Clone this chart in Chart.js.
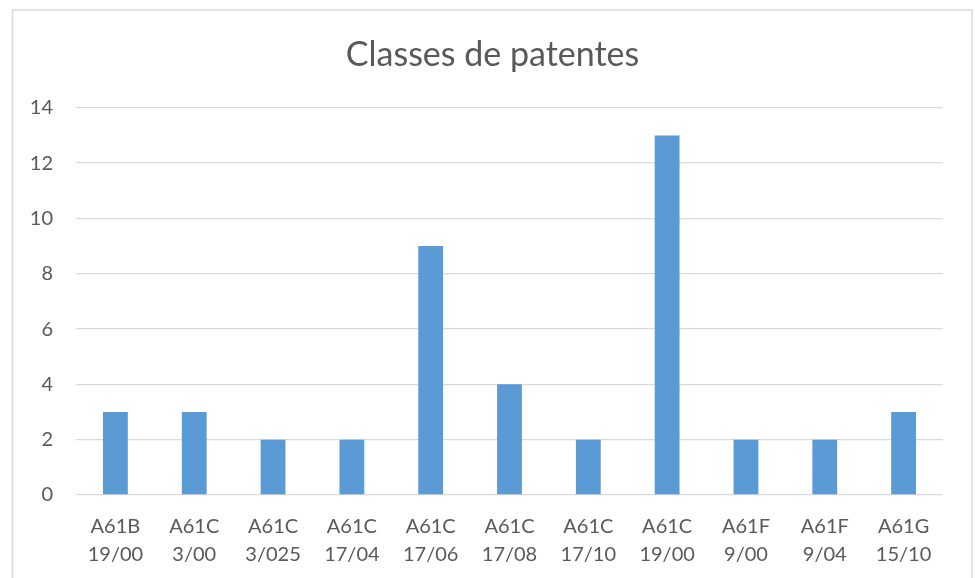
<!DOCTYPE html>
<html>
<head>
<meta charset="utf-8">
<script src="https://cdn.jsdelivr.net/npm/chart.js@4"></script>
<style>
html,body{margin:0;padding:0;background:#fff;}
#wrap{position:relative;width:975px;height:578px;}
</style>
</head>
<body>
<div id="wrap"><canvas id="c" width="975" height="578"></canvas></div>
<script>
const categories = [
  ["A61B","19/00"],["A61C","3/00"],["A61C","3/025"],["A61C","17/04"],
  ["A61C","17/06"],["A61C","17/08"],["A61C","17/10"],["A61C","19/00"],
  ["A61F","9/00"],["A61F","9/04"],["A61G","15/10"]
];
const values = [3,3,2,2,9,4,2,13,2,2,3];
const yTicks = [0,2,4,6,8,10,12,14];
const titleText = "Classes de patentes";

const FONT = "Lato, 'Open Sans', sans-serif";
const TXT = "#595959";

const borderPlugin = {
  id: 'outerBorder',
  beforeDraw(chart) {
    const ctx = chart.ctx;
    ctx.save();
    ctx.fillStyle = '#fff';
    ctx.fillRect(0, 0, chart.width, chart.height);
    ctx.strokeStyle = '#d9d9d9';
    ctx.lineWidth = 1.5;
    ctx.strokeRect(12.5, 10, 959.5, 600);
    ctx.restore();
  }
};

new Chart(document.getElementById('c'), {
  type: 'bar',
  data: {
    labels: categories,
    datasets: [{
      data: values,
      backgroundColor: '#5B9BD5',
      borderWidth: 0,
      categoryPercentage: 1,
      barPercentage: 0.315
    }]
  },
  options: {
    responsive: false,
    animation: false,
    devicePixelRatio: 1,
    layout: { padding: { left: 10, right: 0, top: 8, bottom: 0 } },
    plugins: {
      legend: { display: false },
      tooltip: { enabled: false },
      title: {
        display: true,
        text: titleText,
        color: TXT,
        font: { family: FONT, size: 34, weight: 'normal', lineHeight: 1.2 },
        padding: { top: 27, bottom: 32 }
      }
    },
    scales: {
      x: {
        grid: { display: false, drawTicks: false },
        border: { display: false },
        ticks: {
          color: TXT,
          font: { family: FONT, size: 20, lineHeight: 28/20 },
          maxRotation: 0, minRotation: 0, autoSkip: false,
          padding: 18
        },
        afterFit(s) { s.height = 83; }
      },
      y: {
        min: 0, max: 14,
        afterBuildTicks(s) { s.ticks = yTicks.map(v => ({ value: v })); },
        grid: { color: '#d9d9d9', lineWidth: 1.3, drawTicks: false },
        border: { display: false },
        ticks: {
          color: TXT,
          font: { family: FONT, size: 20 },
          padding: 23
        },
        afterFit(s) { s.width = 66; }
      },
      yRight: {
        position: 'right',
        display: true,
        grid: { display: false, drawTicks: false },
        border: { display: false },
        ticks: { display: false },
        afterFit(s) { s.width = 32; }
      }
    }
  },
  plugins: [borderPlugin]
});
</script>
</body>
</html>
